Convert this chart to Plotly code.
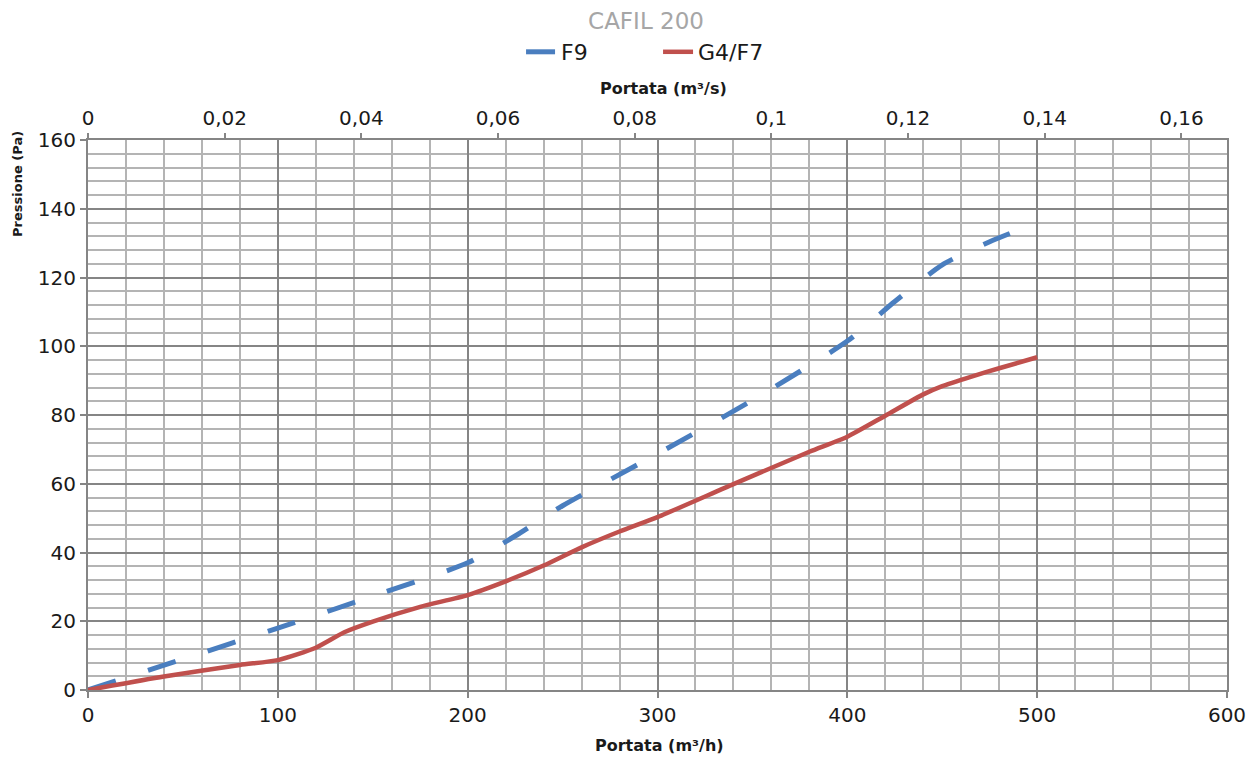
import plotly.graph_objects as go

# Data (Portata m3/h, Pressione Pa)
f9_x = [0, 50, 100, 150, 200, 225, 250, 300, 350, 400, 425, 450, 475, 500]
f9_y = [0, 9, 18, 27.3, 37, 44.8, 53.6, 68.7, 84.3, 101.5, 113, 123.7, 130.4, 135.9]

g4_x = [0, 40, 80, 100, 120, 135, 150, 175, 200, 220, 240, 260, 280, 300, 340, 380, 400, 420, 440, 450, 465, 480, 500]
g4_y = [0, 3.9, 7.3, 8.7, 12.3, 16.8, 19.9, 24.2, 27.6, 31.6, 36.2, 41.5, 46.1, 50.3, 59.9, 69.3, 73.7, 79.8, 86, 88.4, 91.1, 93.6, 96.8]

x_range = [0, 600]
y_range = [0, 160]
x_ticks = [0, 100, 200, 300, 400, 500, 600]
y_ticks = [0, 20, 40, 60, 80, 100, 120, 140, 160]
top_dtick = 0.02

FONT = "DejaVu Sans"
TXT = "#1a1a1a"
MAJ = "#858585"
MIN = "#b4b4b4"
TICKSZ = 20

fig = go.Figure()
fig.add_trace(go.Scatter(x=f9_x, y=f9_y, name="F9", mode="lines",
                         line=dict(color="#4a7ebf", width=5, dash="29px,34px", shape="spline", smoothing=0.6)))
fig.add_trace(go.Scatter(x=g4_x, y=g4_y, name="G4/F7", mode="lines",
                         line=dict(color="#c0504d", width=4.5, shape="spline", smoothing=0.6)))
# invisible trace to drive the top m3/s axis
fig.add_trace(go.Scatter(x=[v / 3600 for v in f9_x], y=f9_y, xaxis="x2", mode="lines",
                         line=dict(color="rgba(0,0,0,0)"), showlegend=False, hoverinfo="skip"))

# page body has an 8px margin, so the figure is 8px smaller and shifted
fig.update_layout(
    width=1250, height=750,
    margin=dict(l=80, r=31, t=132, b=68, autoexpand=False),
    paper_bgcolor="white", plot_bgcolor="white",
    separators=",.",
    font=dict(family=FONT, size=TICKSZ, color=TXT),
    title=dict(text="CAFIL 200", x=0.5104, xanchor="center", y=0.983, yanchor="middle",
               font=dict(family=FONT, size=23, color="#a6a6a6")),
    legend=dict(orientation="h", x=0.3802, xanchor="left", y=1.16, yanchor="middle",
                font=dict(family=FONT, size=22, color=TXT),
                entrywidth=92, entrywidthmode="pixels",
                bgcolor="rgba(0,0,0,0)"),
    xaxis=dict(range=x_range, tickvals=x_ticks, showgrid=True, gridcolor=MAJ, gridwidth=2,
               minor=dict(dtick=20, showgrid=True, gridcolor=MIN, gridwidth=1.5),
               showline=True, linecolor=MAJ, linewidth=2, mirror=False,
               ticks="outside", ticklen=6, tickcolor=MAJ, tickwidth=1.5,
               zeroline=False, tickfont=dict(size=TICKSZ, color=TXT), automargin=False),
    xaxis2=dict(range=[x_range[0] / 3600, x_range[1] / 3600], dtick=top_dtick, tick0=0,
                overlaying="x", side="top", anchor="y", showgrid=False,
                showline=True, linecolor=MAJ, linewidth=2,
                ticks="outside", ticklen=5, tickcolor=MAJ, tickwidth=1.5, zeroline=False,
                tickfont=dict(size=TICKSZ, color=TXT), automargin=False),
    yaxis=dict(range=y_range, tickvals=y_ticks, showgrid=True, gridcolor=MAJ, gridwidth=2,
               minor=dict(dtick=4, showgrid=True, gridcolor=MIN, gridwidth=1.5),
               showline=True, linecolor=MAJ, linewidth=2, mirror=True,
               ticks="outside", ticklen=6, tickcolor=MAJ, tickwidth=1.5,
               zeroline=False, tickfont=dict(size=TICKSZ, color=TXT), automargin=False),
    annotations=[
        dict(text="<b>Pressione (Pa)</b>", textangle=-90, xref="paper", yref="paper",
             x=-0.0615, y=0.92, xanchor="center", yanchor="middle", showarrow=False,
             font=dict(family=FONT, size=13, color=TXT)),
        dict(text="<b>Portata (m³/h)</b>", xref="paper", yref="paper",
             x=0.502, y=-0.1, xanchor="center", yanchor="middle", showarrow=False,
             font=dict(family=FONT, size=16, color=TXT)),
        dict(text="<b>Portata (m³/s)</b>", xref="paper", yref="paper",
             x=0.505, y=1.0945, xanchor="center", yanchor="middle", showarrow=False,
             font=dict(family=FONT, size=16, color=TXT)),
    ],
)

fig.write_html("out.html")
